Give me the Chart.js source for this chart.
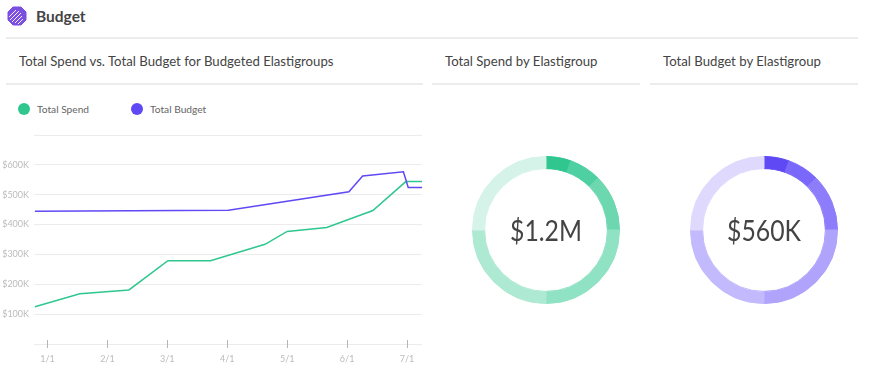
<!DOCTYPE html>
<html>
<head>
<meta charset="utf-8">
<script src="https://cdn.jsdelivr.net/npm/chart.js@4"></script>
<style>
  html, body { margin: 0; padding: 0; background: #fff; }
  body { width: 873px; height: 380px; position: relative; overflow: hidden; font-family: Lato, sans-serif; color: #444; }
  .abs { position: absolute; white-space: nowrap; }
  .rule { position: absolute; height: 2px; background: #ececec; }
  .sub { font-size: 13.2px; color: #444; top: 51px; line-height: 20px; }
  .legend { font-size: 10.2px; color: #666; top: 102px; line-height: 14px; }
  .dot { position: absolute; width: 12px; height: 12px; border-radius: 50%; top: 103px; }
  .center { font-size: 29.5px; font-weight: 400; transform: scaleX(0.84); color: #444; top: 210px; line-height: 40px; width: 148px; text-align: center; }
  canvas { position: absolute; }
</style>
</head>
<body>
<svg class="abs" style="left:7px;top:6px" width="20" height="20" viewBox="0 0 20 20">
  <polygon points="6,1 14,1 19,6 19,14 14,19 6,19 1,14 1,6" fill="#7b4fe0" stroke="#7b4fe0" stroke-linejoin="round"/>
  <path d="M2 11 L9 4 M3 14 L12 5 M5 16 L14 7 M8 17 L15 10 M11 18 L16 13" stroke="#fff" stroke-width="0.9"/>
</svg>
<div class="abs" style="left:36px;top:5px;font-size:15.5px;font-weight:700;line-height:22px;color:#444">Budget</div>
<div class="rule" style="left:6px;top:37px;width:852px"></div>

<div class="abs sub" style="left:19px">Total Spend vs. Total Budget for Budgeted Elastigroups</div>
<div class="abs sub" style="left:445px">Total Spend by Elastigroup</div>
<div class="abs sub" style="left:663px">Total Budget by Elastigroup</div>
<div class="rule" style="left:6px;top:83px;width:417px"></div>
<div class="rule" style="left:432px;top:83px;width:208px"></div>
<div class="rule" style="left:650px;top:83px;width:208px"></div>

<div class="dot" style="left:18px;background:#2fc78f"></div>
<div class="abs legend" style="left:37px">Total Spend</div>
<div class="dot" style="left:131px;background:#5f49f5"></div>
<div class="abs legend" style="left:150px">Total Budget</div>

<canvas id="lineChart" style="left:0;top:120px" width="430" height="250"></canvas>
<canvas id="spendDonut" style="left:462px;top:146px" width="168" height="168"></canvas>
<canvas id="budgetDonut" style="left:680px;top:146px" width="168" height="168"></canvas>
<div class="abs center" style="left:472px">$1.2M</div>
<div class="abs center" style="left:690px">$560K</div>

<script>
// month position, 1 = 1/1, 2 = 2/1 ...
const spendMonths = [0.79, 1.54, 2.36, 3.01, 3.72, 4.63, 5.0, 5.66, 6.43, 6.98, 7.25];
const spendValues = [125000, 168000, 181000, 279000, 279000, 334000, 377000, 390000, 447000, 544000, 544000];
const budgetMonths = [0.79, 4.02, 6.03, 6.26, 6.94, 7.02, 7.25];
const budgetValues = [445000, 448000, 510000, 563000, 577000, 524000, 524000];

const spendSlices = [66000, 84000, 150000, 300000, 300000, 300000];
const budgetSlices = [31000, 39000, 70000, 140000, 140000, 140000];
const spendColors = ["#2fc78f", "#4fd0a2", "#6dd7b0", "#90e2c4", "#ade9d3", "#d5f3e9"];
const budgetColors = ["#5f49f5", "#7a68fa", "#8d7dfb", "#afa3fc", "#c3bafd", "#dfdafd"];

function toPoints(xs, ys) {
  return xs.map((x, i) => ({ x: x, y: ys[i] }));
}

// tick marks on the x axis cross the axis line, chart.js only draws them outward
const crossTicks = {
  id: "crossTicks",
  afterDraw(chart) {
    const ctx = chart.ctx;
    const xAxis = chart.scales.x;
    ctx.save();
    ctx.strokeStyle = "#b5b5b5";
    ctx.lineWidth = 1;
    xAxis.ticks.forEach((tick) => {
      const px = Math.round(xAxis.getPixelForValue(tick.value)) + 0.5;
      ctx.beginPath();
      ctx.moveTo(px, xAxis.top - 4);
      ctx.lineTo(px, xAxis.top + 4);
      ctx.stroke();
    });
    ctx.restore();
  },
};

new Chart(document.getElementById("lineChart"), {
  type: "line",
  data: {
    datasets: [
      { label: "Total Budget", data: toPoints(budgetMonths, budgetValues), borderColor: "#5f49f5" },
      { label: "Total Spend", data: toPoints(spendMonths, spendValues), borderColor: "#2fc78f" },
    ],
  },
  options: {
    responsive: false,
    animation: false,
    layout: { padding: { top: 15, right: 8 } },
    elements: { point: { radius: 0 }, line: { borderWidth: 1.5, tension: 0 } },
    plugins: { legend: { display: false }, tooltip: { enabled: false } },
    scales: {
      x: {
        type: "linear",
        min: 0.775,
        max: 7.25,
        afterBuildTicks(axis) {
          axis.ticks = [1, 2, 3, 4, 5, 6, 7].map((v) => ({ value: v }));
        },
        grid: { display: false },
        border: { display: false },
        ticks: {
          autoSkip: false,
          maxRotation: 0,
          padding: 2,
          color: "#bbbbbb",
          font: { size: 9, family: "Lato" },
          callback: (v) => v + "/1",
        },
        afterFit(axis) { axis.height = 26; },
      },
      y: {
        min: 0,
        max: 700000,
        grid: { color: "#ececec", lineWidth: 1, drawTicks: false },
        border: { display: false },
        ticks: {
          stepSize: 100000,
          padding: 5,
          color: "#bbbbbb",
          font: { size: 9, family: "Lato" },
          callback: (v) => (v === 0 || v === 700000 ? "" : "$" + v / 1000 + "K"),
        },
        afterFit(axis) { axis.width = 34; },
      },
    },
  },
  plugins: [crossTicks],
});

function makeDonut(id, values, colors) {
  new Chart(document.getElementById(id), {
    type: "doughnut",
    data: { datasets: [{ data: values, backgroundColor: colors, borderColor: colors, borderWidth: 1 }] },
    options: {
      responsive: false,
      animation: false,
      cutout: "83.5%",
      layout: { padding: 10 },
      plugins: { legend: { display: false }, tooltip: { enabled: false } },
    },
  });
}
makeDonut("spendDonut", spendSlices, spendColors);
makeDonut("budgetDonut", budgetSlices, budgetColors);
</script>
</body>
</html>
